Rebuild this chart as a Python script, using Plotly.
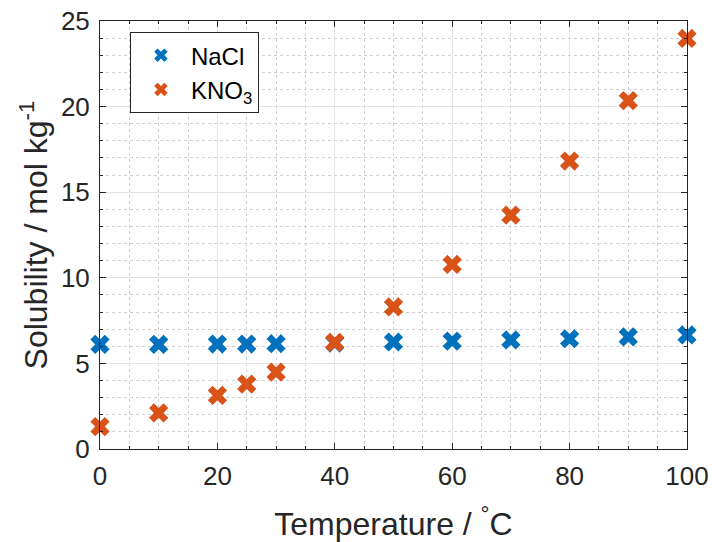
import plotly.graph_objects as go

# Solubility data (mol per kg of water) versus temperature
temperature_nacl = [0, 10, 20, 25, 30, 40, 50, 60, 70, 80, 90, 100]
solubility_nacl = [6.11, 6.11, 6.13, 6.13, 6.15, 6.19, 6.25, 6.30, 6.37, 6.44, 6.55, 6.66]

temperature_kno3 = [0, 10, 20, 25, 30, 40, 50, 60, 70, 80, 90, 100]
solubility_kno3 = [1.31, 2.11, 3.13, 3.79, 4.49, 6.23, 8.30, 10.78, 13.66, 16.82, 20.35, 23.98]

x_ticks = [0, 20, 40, 60, 80, 100]
y_ticks = [0, 5, 10, 15, 20, 25]

FONT = "Liberation Sans, Arial, sans-serif"
AXIS_COLOR = "#262626"

fig = go.Figure()
fig.add_trace(go.Scatter(
    x=temperature_nacl, y=solubility_nacl, mode="markers", name="NaCl",
    marker=dict(symbol="x", size=17, color="#0072BD", line=dict(width=0)),
    cliponaxis=False,
))
fig.add_trace(go.Scatter(
    x=temperature_kno3, y=solubility_kno3, mode="markers", name="KNO<sub>3</sub>",
    marker=dict(symbol="x", size=17, color="#D95319", line=dict(width=0)),
    cliponaxis=False,
))

axis_common = dict(
    showline=True, linecolor=AXIS_COLOR, linewidth=1, mirror="ticks",
    ticks="inside", ticklen=6, tickcolor=AXIS_COLOR,
    showgrid=True, gridcolor="#E3E3E3", gridwidth=1,
    zeroline=False, automargin=False,
    tickfont=dict(family=FONT, size=26, color=AXIS_COLOR),
)

fig.update_xaxes(
    range=[0, 100], tickvals=x_ticks, ticklabelstandoff=4,
    title=dict(text="Temperature / <sup>°</sup>C", font=dict(family=FONT, size=32, color=AXIS_COLOR), standoff=22),
    minor=dict(dtick=5, showgrid=True, gridcolor="#D0D0D0", griddash="dot", ticks="inside", ticklen=3, tickcolor=AXIS_COLOR),
    **axis_common,
)
fig.update_yaxes(
    range=[0, 25], tickvals=y_ticks, ticklabelstandoff=4,
    title=dict(text="Solubility / mol kg<sup>-1</sup>", font=dict(family=FONT, size=32, color=AXIS_COLOR), standoff=3),
    minor=dict(dtick=1, showgrid=True, gridcolor="#D0D0D0", griddash="dot", ticks="inside", ticklen=3, tickcolor=AXIS_COLOR),
    **axis_common,
)

fig.update_layout(
    width=712, height=542,
    margin=dict(l=100, r=25, t=21, b=93),
    plot_bgcolor="white", paper_bgcolor="white",
    font=dict(family=FONT, color=AXIS_COLOR),
    legend=dict(
        x=0.051, y=0.974, xanchor="left", yanchor="top",
        bgcolor="white", bordercolor=AXIS_COLOR, borderwidth=1,
        font=dict(family=FONT, size=24, color="black"),
        itemsizing="constant", itemwidth=50,
    ),
)

fig.write_html("out.html")
